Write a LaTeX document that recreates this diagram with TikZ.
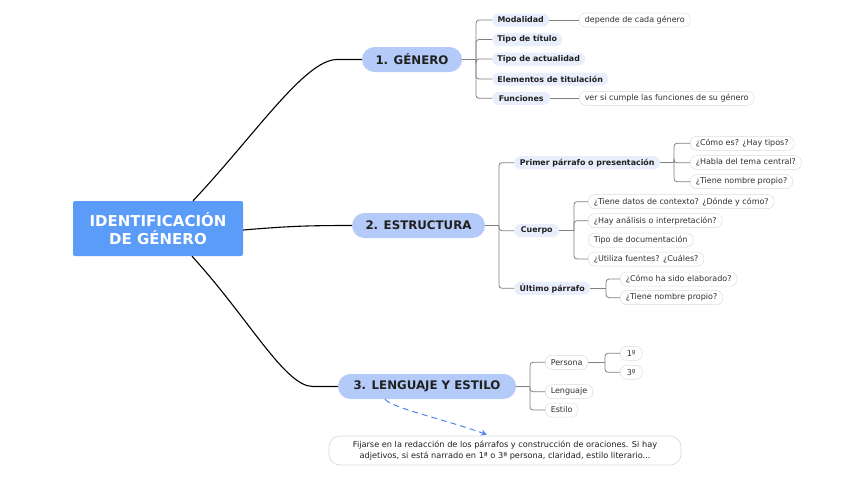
\documentclass[tikz,border=0pt]{standalone}
\usepackage{fontspec}
\setmainfont{DejaVu Sans}
\usetikzlibrary{arrows.meta}
\definecolor{rootblue}{HTML}{5B9CF8}
\definecolor{mainblue}{HTML}{B4CBFA}
\definecolor{subblue}{HTML}{E8EEFC}
\definecolor{leafborder}{HTML}{DDDDDD}
\definecolor{conngray}{HTML}{808080}
\definecolor{dashblue}{HTML}{4F86F0}
\definecolor{txtdark}{HTML}{202020}
\definecolor{txtleaf}{HTML}{303030}
\begin{document}
\begin{tikzpicture}[x=1pt,y=-1pt,
 rootnode/.style={fill=rootblue, rounded corners=2pt, minimum width=170pt, minimum height=55pt, text=white, font=\fontsize{15}{18}\selectfont\bfseries, align=center, inner sep=0pt},
 mainnode/.style={fill=mainblue, rounded corners=12.5pt, minimum height=25pt, text=txtdark, font=\fontsize{11.8}{14}\selectfont\bfseries, inner sep=0pt},
 subnode/.style={fill=subblue, rounded corners=6.5pt, minimum height=13pt, text=txtdark, font=\fontsize{7.9}{9}\selectfont\bfseries, inner sep=0pt, anchor=west},
 leaf/.style={draw=leafborder, fill=white, line width=0.5pt, rounded corners=6.5pt, minimum height=14pt, text=txtleaf, font=\fontsize{8}{9}\selectfont, inner ysep=0pt, inner xsep=5.5pt, anchor=west},
 mainconn/.style={draw=black, line width=1.1pt},
 conn/.style={draw=conngray, line width=0.8pt, rounded corners=3pt},
]
\useasboundingbox[fill=white] (0,0) rectangle (848,477);

% root and main nodes
\node[rootnode] (root) at (158,228.5) {IDENTIFICACIÓN\\DE GÉNERO};
\node[mainnode, minimum width=100pt] (g1) at (412,59.5) {1. GÉNERO};
\node[mainnode, minimum width=133pt] (g2) at (418.5,225.5) {2. ESTRUCTURA};
\node[mainnode, minimum width=178pt] (g3) at (427,386.5) {3. LENGUAJE Y ESTILO};

% main connectors
\coordinate (k1) at (337,59.5);
\coordinate (k3) at (313,386.5);
\draw[mainconn] ([xshift=35pt]root.north) .. controls (255,135) and (305,59.5) .. (k1) -- (g1.west);
\draw[mainconn] ([yshift=-1.5pt]root.east) .. controls (290,226) and (310,225.5) .. (g2.west);
\draw[mainconn] ([xshift=34pt]root.south) .. controls (250,320) and (285,386.5) .. (k3) -- (g3.west);

% 1. GENERO children
\node[subnode, minimum width=57pt] (mod) at (492,20) {Modalidad};
\node[subnode, minimum width=70pt] (tit) at (492,39.5) {Tipo de título};
\node[subnode, minimum width=93pt] (act) at (492,59) {Tipo de actualidad};
\node[subnode, minimum width=116pt] (ele) at (492,79) {Elementos de titulación};
\node[subnode, minimum width=58pt] (fun) at (492,98.3) {Funciones};
\node[leaf] (dep) at (579,20) {depende de cada género};
\node[leaf] (ver) at (579,98.3) {ver si cumple las funciones de su género};
\coordinate (b1) at (476,59.5);
\draw[conn] (g1.east) -- (b1);
\foreach \c in {mod,tit,act,ele,fun} \draw[conn] (b1) |- (\c.west);
\draw[conn] (mod.east) -- (dep.west);
\draw[conn] (fun.east) -- (ver.west);

% 2. ESTRUCTURA children
\node[subnode, minimum width=146pt] (pp) at (514,162.7) {Primer párrafo o presentación};
\node[subnode, minimum width=45pt] (cue) at (514,230.7) {Cuerpo};
\node[subnode, minimum width=76pt] (ult) at (514,288.3) {Último párrafo};
\coordinate (b2) at (499,225.5);
\draw[conn] (g2.east) -- (b2);
\foreach \c in {pp,cue,ult} \draw[conn] (b2) |- (\c.west);

\node[leaf] (c1) at (690,143.3) {¿Cómo es? ¿Hay tipos?};
\node[leaf] (c2) at (690,162.7) {¿Habla del tema central?};
\node[leaf] (c3) at (690,181.7) {¿Tiene nombre propio?};
\coordinate (bp) at (674,162.7);
\draw[conn] (pp.east) -- (bp);
\foreach \c in {c1,c2,c3} \draw[conn] (bp) |- (\c.west);

\node[leaf] (d1) at (588,201.7) {¿Tiene datos de contexto? ¿Dónde y cómo?};
\node[leaf] (d2) at (588,220.7) {¿Hay análisis o interpretación?};
\node[leaf] (d3) at (588,240) {Tipo de documentación};
\node[leaf] (d4) at (588,259) {¿Utiliza fuentes? ¿Cuáles?};
\coordinate (bc) at (574,230.7);
\draw[conn] (cue.east) -- (bc);
\foreach \c in {d1,d2,d4} \draw[conn] (bc) |- (\c.west);

\node[leaf] (u1) at (620,279) {¿Cómo ha sido elaborado?};
\node[leaf] (u2) at (620,297.7) {¿Tiene nombre propio?};
\coordinate (bu) at (606,288.3);
\draw[conn] (ult.east) -- (bu);
\foreach \c in {u1,u2} \draw[conn] (bu) |- (\c.west);

% 3. LENGUAJE children
\node[leaf] (per) at (545,362.3) {Persona};
\node[leaf] (len) at (545,391.7) {Lenguaje};
\node[leaf] (est) at (545,410) {Estilo};
\coordinate (b3) at (530,386.5);
\draw[conn] (g3.east) -- (b3);
\foreach \c in {per,len,est} \draw[conn] (b3) |- (\c.west);

\node[leaf, minimum width=22pt] (p1) at (620,353.3) {1º};
\node[leaf, minimum width=22pt] (p3) at (620,372.3) {3º};
\coordinate (bq) at (605,362.3);
\draw[conn] (per.east) -- (bq);
\foreach \c in {p1,p3} \draw[conn] (bq) |- (\c.west);

% callout
\node[draw=leafborder, line width=0.8pt, fill=white, rounded corners=11pt, minimum width=352pt, minimum height=29pt, inner sep=0pt, align=center, text=txtdark, font=\fontsize{8.2}{10.6}\selectfont] (note) at (505,450.5) {Fijarse en la redacción de los párrafos y construcción de oraciones. Si hay\\adjetivos, si está narrado en 1ª o 3ª persona, claridad, estilo literario...};
\draw[draw=dashblue, line width=1pt, dash pattern=on 6pt off 4pt, -{Stealth[length=6pt,width=6pt]}] ([xshift=-42pt]g3.south) .. controls (392,408) and (440,418) .. ([xshift=-18pt,yshift=1pt]note.north);
\end{tikzpicture}
\end{document}
